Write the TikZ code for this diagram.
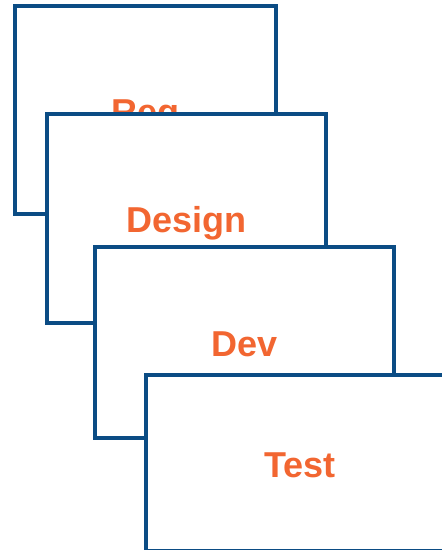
\documentclass[tikz,border=0pt]{standalone}
\usepackage{fontspec}
\setmainfont{Liberation Sans}
\definecolor{frameblue}{HTML}{0B4C84}
\definecolor{labelorange}{HTML}{F26631}
\begin{document}
\begin{tikzpicture}[x=1pt,y=-1pt,
  stage/.style={draw=frameblue, fill=white, line width=3.5pt,
    anchor=north west, outer sep=0pt, inner sep=0pt,
    text=labelorange, font=\bfseries\fontsize{36}{36}\selectfont,
    text height=28.5pt, text depth=0pt}]
  \useasboundingbox (0,0) rectangle (442,550);
  \clip (0,0) rectangle (442,550);
  % four overlapping phase cards, back to front
  \node[stage, minimum width=261pt, minimum height=208pt] (req)    at (15,6)    {Req};
  \node[stage, minimum width=279pt, minimum height=209pt] (design) at (47,114)  {Design};
  \node[stage, minimum width=299pt, minimum height=191pt] (dev)    at (95,247)  {Dev};
  \node[stage, minimum width=308pt, minimum height=176pt] (test)   at (146,375) {Test};
\end{tikzpicture}
\end{document}
